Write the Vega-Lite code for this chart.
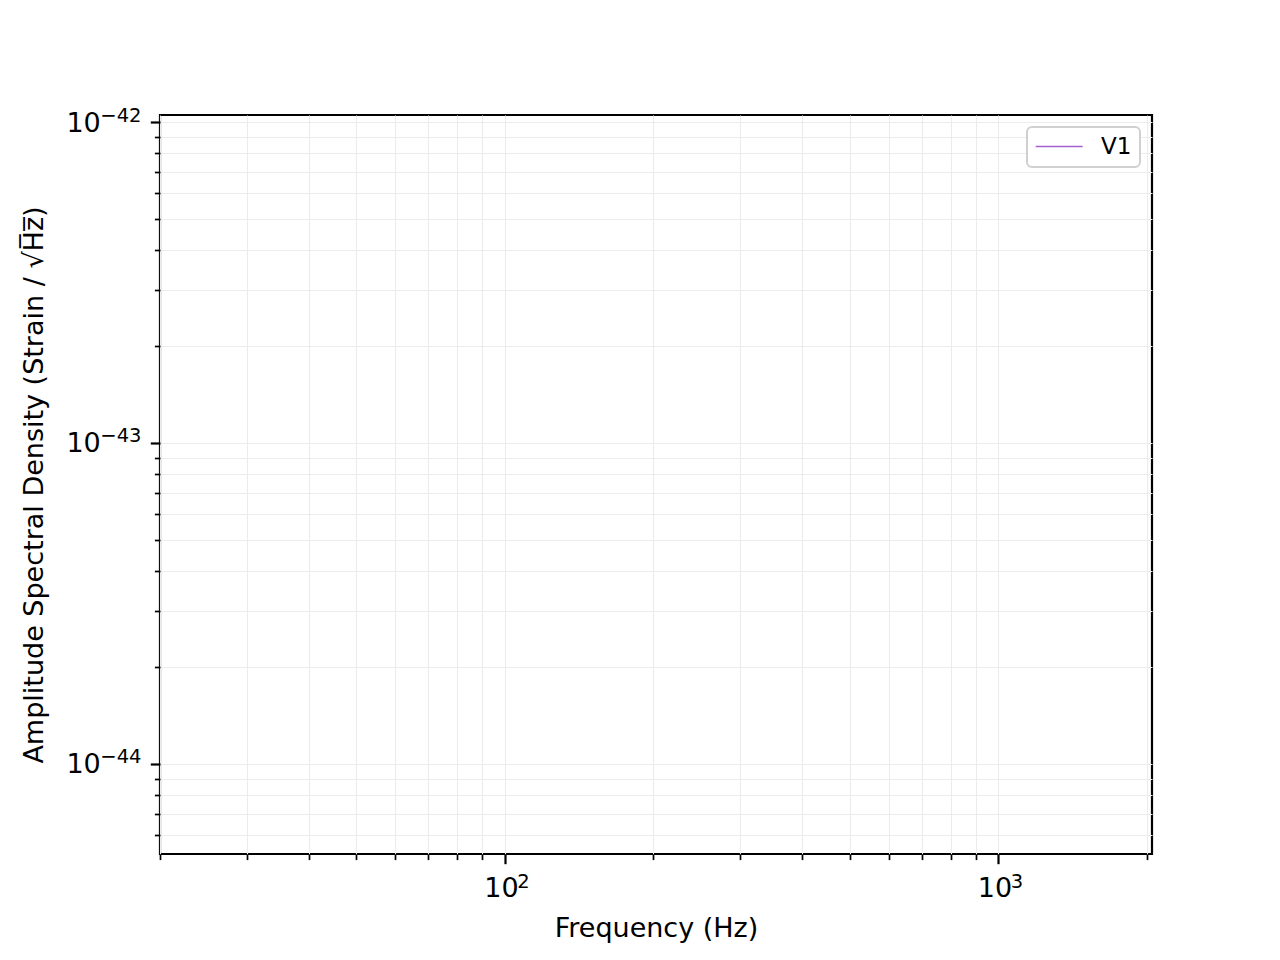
{
  "$schema": "https://vega.github.io/schema/vega-lite/v6.json",
  "width": 992,
  "height": 739,
  "padding": {"left": 160, "top": 115, "right": 128, "bottom": 106},
  "autosize": {"type": "none"},
  "background": "white",
  "config": {
    "font": "DejaVu Sans",
    "view": {"stroke": "black", "strokeWidth": 2.2},
    "legend": {"strokeWidth": 2},
    "axis": {
      "domain": false,
      "tickColor": "black",
      "labelColor": "black",
      "titleColor": "black",
      "labelFont": "DejaVu Sans",
      "titleFont": "DejaVu Sans",
      "labelFontSize": 27,
      "titleFontSize": 27,
      "titleFontWeight": "normal",
      "gridColor": "#ececec",
      "gridWidth": 1.1
    }
  },
  "data": {
    "values": [
      {"frequency": 20, "asd": null, "detector": "V1"},
      {"frequency": 100, "asd": null, "detector": "V1"},
      {"frequency": 1000, "asd": null, "detector": "V1"},
      {"frequency": 2048, "asd": null, "detector": "V1"}
    ]
  },
  "layer": [
    {
      "mark": {"type": "line", "strokeWidth": 1.4, "clip": true},
      "encoding": {
        "x": {
          "field": "frequency",
          "type": "quantitative",
          "scale": {"type": "log", "domain": [20, 2048], "nice": false, "zero": false},
          "axis": {
            "orient": "bottom",
            "title": "Frequency (Hz)",
            "titlePadding": 14,
            "values": [100, 1000],
            "labelExpr": "'10'",
            "labelOffset": -4,
            "tickSize": 9.7,
            "tickWidth": 2.2,
            "labelPadding": 12,
            "grid": true,
            "labelFlush": false
          }
        },
        "y": {
          "field": "asd",
          "type": "quantitative",
          "scale": {"type": "log", "domain": [5.24e-45, 1.052e-42], "nice": false, "zero": false},
          "axis": {
            "orient": "left",
            "title": "Amplitude Spectral Density (Strain / √H̅z̅)",
            "titlePadding": 17,
            "values": [1e-44, 1e-43, 1e-42],
            "labelExpr": "'10'",
            "labelOffset": 1,
            "tickSize": 9.7,
            "tickWidth": 2.2,
            "labelPadding": 50,
            "grid": true,
            "labelFlush": false
          }
        },
        "color": {
          "field": "detector",
          "type": "nominal",
          "scale": {"domain": ["V1"], "range": ["#a45fd1"]},
          "legend": {
            "title": null,
            "orient": "top-right",
            "offset": 12,
            "symbolType": "M-1.38,0H4.62",
            "symbolSize": 245,
            "symbolStrokeWidth": 1.4,
            "labelFontSize": 23,
            "labelFont": "DejaVu Sans",
            "labelColor": "black",
            "labelOffset": 43,
            "padding": 8,
            "strokeColor": "#d0d0d0",
            "cornerRadius": 5,
            "fillColor": "white"
          }
        }
      }
    },
    {
      "mark": {"type": "line", "strokeWidth": 1.4, "clip": true},
      "encoding": {
        "x": {
          "field": "frequency",
          "type": "quantitative",
          "axis": {
            "orient": "bottom",
            "title": null,
            "values": [100, 1000],
            "labelExpr": "datum.value < 500 ? '2' : '3'",
            "labelFontSize": 19.5,
            "labelOffset": 18,
            "ticks": false,
            "labelPadding": 18,
            "grid": false,
            "labelFlush": false
          }
        },
        "y": {
          "field": "asd",
          "type": "quantitative",
          "axis": {
            "orient": "left",
            "title": null,
            "values": [1e-44, 1e-43, 1e-42],
            "labelExpr": "datum.value > 5e-43 ? '−42' : (datum.value > 5e-44 ? '−43' : '−44')",
            "labelFontSize": 19.5,
            "labelOffset": -7,
            "ticks": false,
            "labelPadding": 19,
            "grid": false,
            "labelFlush": false
          }
        }
      }
    },
    {
      "mark": {"type": "line", "strokeWidth": 1.4, "clip": true},
      "encoding": {
        "x": {
          "field": "frequency",
          "type": "quantitative",
          "axis": {
            "orient": "bottom",
            "title": null,
            "labels": false,
            "values": [20, 30, 40, 50, 60, 70, 80, 90, 200, 300, 400, 500, 600, 700, 800, 900, 2000],
            "tickSize": 5.6,
            "tickWidth": 1.7,
            "grid": true
          }
        },
        "y": {
          "field": "asd",
          "type": "quantitative",
          "axis": {
            "orient": "left",
            "title": null,
            "labels": false,
            "values": [6e-45, 7e-45, 8e-45, 9e-45, 2e-44, 3e-44, 4e-44, 5e-44, 6e-44, 7e-44, 8e-44, 9e-44, 2e-43, 3e-43, 4e-43, 5e-43, 6e-43, 7e-43, 8e-43, 9e-43],
            "tickSize": 5.6,
            "tickWidth": 1.7,
            "grid": true
          }
        }
      }
    }
  ],
  "resolve": {"axis": {"x": "independent", "y": "independent"}}
}
